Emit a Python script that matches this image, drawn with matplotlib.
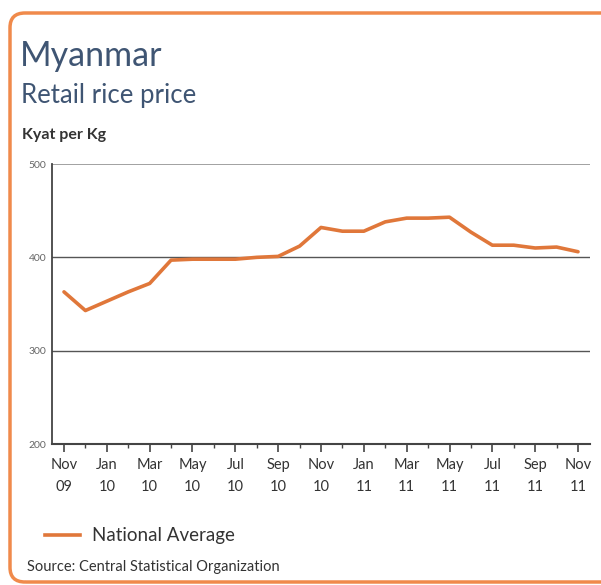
import matplotlib.pyplot as plt
import numpy as np
from matplotlib.patches import FancyBboxPatch

plt.rcParams['font.family'] = ['Lato', 'DejaVu Sans']

# monthly national average, Nov 2009 - Nov 2011 (kyat per kg)
months = ['Nov 09', 'Dec 09', 'Jan 10', 'Feb 10', 'Mar 10', 'Apr 10', 'May 10',
          'Jun 10', 'Jul 10', 'Aug 10', 'Sep 10', 'Oct 10', 'Nov 10', 'Dec 10',
          'Jan 11', 'Feb 11', 'Mar 11', 'Apr 11', 'May 11', 'Jun 11', 'Jul 11',
          'Aug 11', 'Sep 11', 'Oct 11', 'Nov 11']
price = [363, 343, 353, 363, 372, 397, 398, 398, 398, 400, 401, 412, 432, 428,
         428, 438, 442, 442, 443, 427, 413, 413, 410, 411, 406]
tick_labels = ['Nov\n09', 'Jan\n10', 'Mar\n10', 'May\n10', 'Jul\n10', 'Sep\n10',
               'Nov\n10', 'Jan\n11', 'Mar\n11', 'May\n11', 'Jul\n11', 'Sep\n11',
               'Nov\n11']

orange = '#e0773a'
title_col = '#3f5573'

fig = plt.figure(figsize=(6.01, 5.85), dpi=100)

# rounded orange frame
frame = FancyBboxPatch((10 / 601, 3 / 585), 640 / 601, 569 / 585,
                       boxstyle='round,pad=0,rounding_size=0.025',
                       transform=fig.transFigure, fc='none', ec='#f08a4b',
                       lw=2.5, zorder=0)
fig.patches.append(frame)

fig.text(20 / 601, 1 - 66 / 585, 'Myanmar', fontsize=24.5, color=title_col)
fig.text(21 / 601, 1 - 103 / 585, 'Retail rice price', fontsize=18.5,
         color=title_col)
fig.text(22 / 601, 1 - 139 / 585, 'Kyat per Kg', fontsize=11.5,
         fontweight='bold', color='#333333')

ax = fig.add_axes([52 / 601, 141 / 585, 538 / 601, 280 / 585])
ax.set_facecolor('none')
x = np.arange(len(months))
ax.plot(x, price, color=orange, lw=2.6, solid_capstyle='round',
        solid_joinstyle='round', zorder=3)

ax.set_xlim(-0.56, 24.56)
ax.set_ylim(200, 500)
ax.set_yticks([200, 300, 400, 500])
ax.set_yticklabels(['200', '300', '400', '500'], fontsize=7.5, color='#666666')
ax.tick_params(axis='y', length=0, pad=4)

for v in [300, 400]:
    ax.axhline(v, color='#555555', lw=1, zorder=1)
ax.axhline(500, color='#9a9a9a', lw=1.3, zorder=1)

ax.set_xticks(x[::2])
ax.set_xticklabels(tick_labels, fontsize=10.5, color='#333333', linespacing=1.75)
ax.set_xticks(x, minor=True)
ax.tick_params(axis='x', which='major', length=6, width=1.2, color='#444444',
               direction='out', pad=4)
ax.tick_params(axis='x', which='minor', length=3, width=1, color='#444444',
               direction='out')
ax.xaxis.set_ticks_position('bottom')

for s in ['top', 'right']:
    ax.spines[s].set_visible(False)
ax.spines['left'].set_color('#444444')
ax.spines['left'].set_linewidth(1.3)
ax.spines['bottom'].set_color('#444444')
ax.spines['bottom'].set_linewidth(1.5)

# legend
fig.lines.append(plt.Line2D([45 / 601, 80 / 601], [1 - 535 / 585, 1 - 535 / 585],
                            transform=fig.transFigure, color=orange, lw=2.6))
fig.text(92 / 601, 1 - 535 / 585, 'National Average', fontsize=13.5,
         color='#333333', va='center')
fig.text(27 / 601, 1 - 567 / 585, 'Source: Central Statistical Organization',
         fontsize=10.5, color='#333333', va='center')

fig.savefig('out.png', dpi=100)
